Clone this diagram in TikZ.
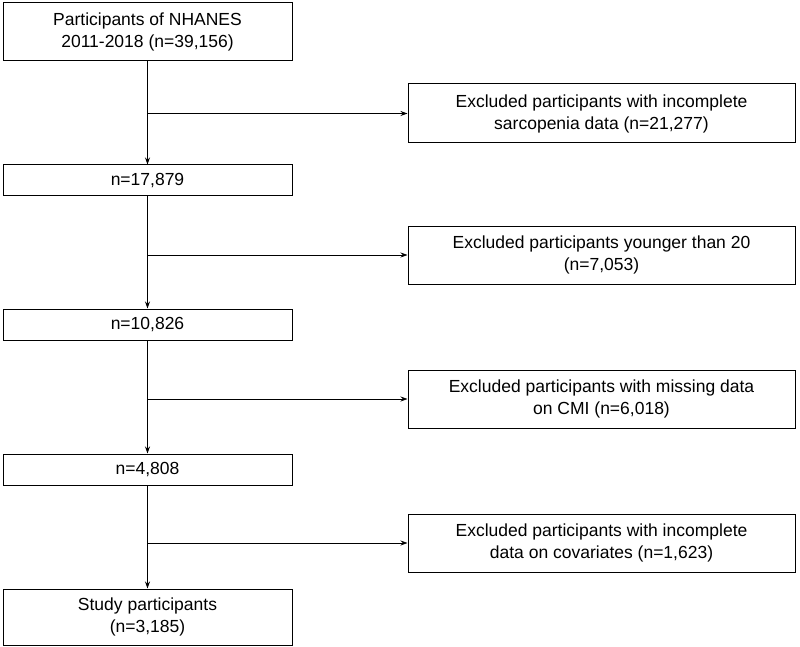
\documentclass[tikz,border=0pt]{standalone}
\usepackage{fontspec}
\setmainfont{Liberation Sans}
\usetikzlibrary{arrows.meta}
\begin{document}
\begin{tikzpicture}[x=1pt,y=-1pt,
  box/.style={draw,line width=1pt,align=center,inner sep=0pt,font=\fontsize{17.5}{22}\selectfont},
  arr/.style={-{Stealth[length=7pt,width=5pt]},line width=0.8pt}]
\useasboundingbox (0,0) rectangle (800,647);
\newcommand{\bx}[5]{\node[box,minimum width=#3-#1,minimum height=#4-#2] (#5) at ({(#1+#3)/2},{(#2+#4)/2})}
\bx{3}{3}{292}{61}{a}{Participants of NHANES\\2011-2018 (n=39,156)};
\bx{408}{84}{795}{143}{r1}{Excluded participants with incomplete\\sarcopenia data (n=21,277)};
\bx{3}{165}{292}{196}{b}{n=17,879};
\bx{408}{226}{795}{284}{r2}{Excluded participants younger than 20\\(n=7,053)};
\bx{3}{309}{292}{340}{c}{n=10,826};
\bx{408}{370}{795}{428}{r3}{Excluded participants with missing data\\on CMI (n=6,018)};
\bx{3}{454}{292}{485}{d}{n=4,808};
\bx{408}{514}{795}{572}{r4}{Excluded participants with incomplete\\data on covariates (n=1,623)};
\bx{3}{589}{292}{645}{e}{Study participants\\(n=3,185)};
\coordinate (p1) at (147,113.5);
\coordinate (p2) at (147,255);
\coordinate (p3) at (147,399);
\coordinate (p4) at (147,543);
\draw[arr] (a.south) -- (b.north);
\draw[arr] (b.south) -- (c.north);
\draw[arr] (c.south) -- (d.north);
\draw[arr] (d.south) -- (e.north);
\draw[arr] (p1) -- (r1.west);
\draw[arr] (p2) -- (r2.west);
\draw[arr] (p3) -- (r3.west);
\draw[arr] (p4) -- (r4.west);
\end{tikzpicture}
\end{document}
